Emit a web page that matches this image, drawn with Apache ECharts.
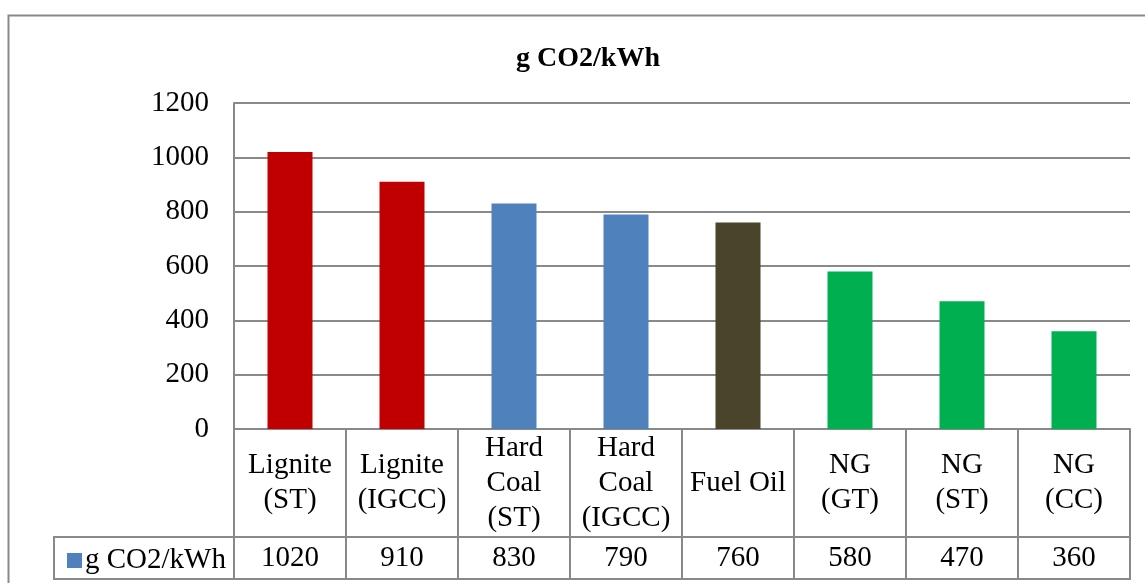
<!DOCTYPE html>
<html>
<head>
<meta charset="utf-8">
<script src="https://cdn.jsdelivr.net/npm/echarts@6/dist/echarts.min.js"></script>
<style>
  html, body { margin: 0; padding: 0; background: #ffffff; }
  #chart { width: 1145px; height: 583px; }
</style>
</head>
<body>
<div id="chart"></div>
<script>
// Emission factors by generation technology
const seriesName = 'g CO2/kWh';
const categories = ['Lignite\n(ST)', 'Lignite\n(IGCC)', 'Hard\nCoal\n(ST)', 'Hard\nCoal\n(IGCC)', 'Fuel Oil', 'NG\n(GT)', 'NG\n(ST)', 'NG\n(CC)'];
const values = [1020, 910, 830, 790, 760, 580, 470, 360];
const barColors = ['#C00000', '#C00000', '#4F81BD', '#4F81BD', '#4A452A', '#00B050', '#00B050', '#00B050'];
const yTicks = [0, 200, 400, 600, 800, 1000, 1200];

const FONT = '"Liberation Serif", "Times New Roman", serif';
const LINE = '#898989';
const FS = 29;

const GRID = { left: 234, right: 15, top: 103, bottom: 154 };
const ROW1 = 108; // category-name row height
const ROW2 = 42;  // value row height

const chart = echarts.init(document.getElementById('chart'), null, { renderer: 'canvas' });

const option = {
  backgroundColor: '#ffffff',
  animation: false,
  title: {
    text: seriesName,
    left: 583,
    top: 40,
    textAlign: 'center',
    textStyle: { fontFamily: FONT, fontSize: 28, fontWeight: 'bold', color: '#000' }
  },
  legend: {
    data: [seriesName],
    left: 62,
    top: 541,
    icon: 'rect',
    itemWidth: 15,
    itemHeight: 15,
    textStyle: { fontFamily: FONT, fontSize: FS, color: '#000', padding: [0, 0, 0, -2] }
  },
  grid: GRID,
  xAxis: [
    {
      type: 'category',
      data: categories,
      position: 'bottom',
      axisLine: { show: true, lineStyle: { color: LINE, width: 2 } },
      axisTick: { show: true, length: ROW1, alignWithLabel: false, lineStyle: { color: LINE, width: 2 } },
      axisLabel: {
        interval: 0,
        margin: ROW1 / 2,
        verticalAlign: 'middle',
        fontFamily: FONT, fontSize: FS, lineHeight: 35, color: '#000'
      }
    },
    {
      type: 'category',
      data: values.map(String),
      position: 'bottom',
      offset: ROW1,
      axisLine: { show: true, lineStyle: { color: LINE, width: 2 } },
      axisTick: { show: true, length: ROW2, alignWithLabel: false, lineStyle: { color: LINE, width: 2 } },
      axisLabel: {
        interval: 0,
        margin: ROW2 / 2,
        verticalAlign: 'middle',
        fontFamily: FONT, fontSize: FS, color: '#000'
      }
    }
  ],
  yAxis: {
    type: 'value',
    min: yTicks[0],
    max: yTicks[yTicks.length - 1],
    interval: 200,
    axisLine: { show: true, lineStyle: { color: LINE, width: 2 } },
    axisTick: { show: false },
    splitLine: { show: true, lineStyle: { color: LINE, width: 2 } },
    axisLabel: { margin: 25, fontFamily: FONT, fontSize: FS, color: '#000', formatter: (v) => String(v) }
  },
  series: [
    {
      name: seriesName,
      type: 'bar',
      xAxisIndex: 0,
      barWidth: 45,
      itemStyle: { color: '#4F81BD' },
      data: values.map((v, i) => ({ value: v, itemStyle: { color: barColors[i] } }))
    }
  ],
  graphic: [
    // outer chart-area frame
    {
      type: 'rect',
      shape: { x: 8.5, y: 15.5, width: 1200, height: 700 },
      style: { fill: 'none', stroke: LINE, lineWidth: 2 },
      silent: true, z: 0
    },
    // value row frame including the legend key cell
    {
      type: 'rect',
      shape: { x: 54, y: 583 - GRID.bottom + ROW1, width: 1145 - GRID.right - 54, height: ROW2 },
      style: { fill: 'none', stroke: LINE, lineWidth: 2 },
      silent: true, z: 10
    }
  ]
};

chart.setOption(option);
</script>
</body>
</html>
